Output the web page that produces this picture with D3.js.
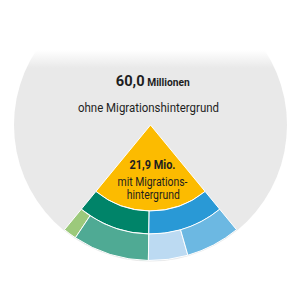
<!DOCTYPE html>
<html>
<head>
<meta charset="utf-8">
<script src="https://cdn.jsdelivr.net/npm/d3@7"></script>
<style>
  body { margin: 0; background: #fff; }
  svg { display: block; font-family: Roboto, "Noto Sans", sans-serif; }
</style>
</head>
<body>
<div id="chart"></div>
<script>
// Values (Millionen)
var totalWithout = 60.0;
var totalWith = 21.9;
var innerValues = [10.7, 11.2];          // green group, blue group
var outerValues = [1.6, 9.1, 4.7, 6.5];  // split of the inner groups
var labelWithout = ["60,0", " Millionen", "ohne Migrationshintergrund"];
var labelWith = ["21,9 Mio.", "mit Migrations-", "hintergrund"];

// Colours
var innerColors = ["#008469", "#2999d6"];
var outerColors = ["#9cc97b", "#4faa94", "#bcdaf2", "#6cb8e2"];

var width = 300, height = 300;
var cx = 150.5, cy = 125;

var svg = d3.select("#chart").append("svg")
  .attr("width", width)
  .attr("height", height);

// fade at the top
var defs = svg.append("defs");
var grad = defs.append("linearGradient")
  .attr("id", "fade")
  .attr("x1", 0).attr("y1", 0).attr("x2", 0).attr("y2", 1);
grad.append("stop").attr("offset", "0.74").attr("stop-color", "#fff").attr("stop-opacity", 1);
grad.append("stop").attr("offset", "1").attr("stop-color", "#fff").attr("stop-opacity", 0);

var g = svg.append("g").attr("transform", "translate(" + cx + "," + cy + ")");

// angle: share of 100
var angle = d3.scaleLinear().domain([0, 100]).range([0, 2 * Math.PI]);

var rWedge = 86, rInner = 109, rOuter = 135.5, rBack = 136.5;

// background circle
g.append("circle")
  .attr("r", rBack)
  .attr("fill", "#e9e9e9");

var start = Math.PI + angle(totalWith) / 2;

var arc = d3.arc();

// yellow wedge
g.append("path")
  .attr("d", arc({ innerRadius: 0, outerRadius: rWedge, startAngle: start, endAngle: start - angle(totalWith) }))
  .attr("fill", "#fcbb00")
  .attr("stroke", "#fff")
  .attr("stroke-width", 1);

// ring helper
function ring(values, colors, r0, r1) {
  var a = start;
  var segs = values.map(function (v, i) {
    var s = { innerRadius: r0, outerRadius: r1, startAngle: a, endAngle: a - angle(v), color: colors[i] };
    a = a - angle(v);
    return s;
  });
  g.selectAll(null)
    .data(segs)
    .enter()
    .append("path")
    .attr("d", function (d) { return arc(d); })
    .attr("fill", function (d) { return d.color; })
    .attr("stroke", "#fff")
    .attr("stroke-width", 1);
}

ring(innerValues, innerColors, rWedge, rInner);
ring(outerValues, outerColors, rInner, rOuter);

// white fade over the top of the circle
svg.append("rect")
  .attr("x", 0).attr("y", 0)
  .attr("width", width).attr("height", 68)
  .attr("fill", "url(#fade)");

// labels
var t1 = svg.append("text")
  .attr("x", 152.8)
  .attr("y", 85.5)
  .attr("text-anchor", "middle")
  .attr("fill", "#1e1e1e")
  .attr("font-weight", "bold")
  .attr("textLength", 74)
  .attr("lengthAdjust", "spacingAndGlyphs");
t1.append("tspan").attr("font-size", "15px").text(labelWithout[0]);
t1.append("tspan").attr("font-size", "10.5px").text(labelWithout[1]);

svg.append("text")
  .attr("x", 148.5)
  .attr("y", 111.5)
  .attr("text-anchor", "middle")
  .attr("fill", "#1e1e1e")
  .attr("font-size", "12.5px")
  .attr("textLength", 141)
  .attr("lengthAdjust", "spacingAndGlyphs")
  .text(labelWithout[2]);

svg.append("text")
  .attr("x", 152.5)
  .attr("y", 168.5)
  .attr("text-anchor", "middle")
  .attr("fill", "#1e1e1e")
  .attr("font-weight", "bold")
  .attr("font-size", "12.5px")
  .attr("textLength", 46)
  .attr("lengthAdjust", "spacingAndGlyphs")
  .text(labelWith[0]);

svg.append("text")
  .attr("x", 152.5)
  .attr("y", 185.5)
  .attr("text-anchor", "middle")
  .attr("fill", "#1e1e1e")
  .attr("font-size", "12px")
  .attr("textLength", 70)
  .attr("lengthAdjust", "spacingAndGlyphs")
  .text(labelWith[1]);

svg.append("text")
  .attr("x", 153.3)
  .attr("y", 198.5)
  .attr("text-anchor", "middle")
  .attr("fill", "#1e1e1e")
  .attr("font-size", "12px")
  .attr("textLength", 53)
  .attr("lengthAdjust", "spacingAndGlyphs")
  .text(labelWith[2]);
</script>
</body>
</html>
